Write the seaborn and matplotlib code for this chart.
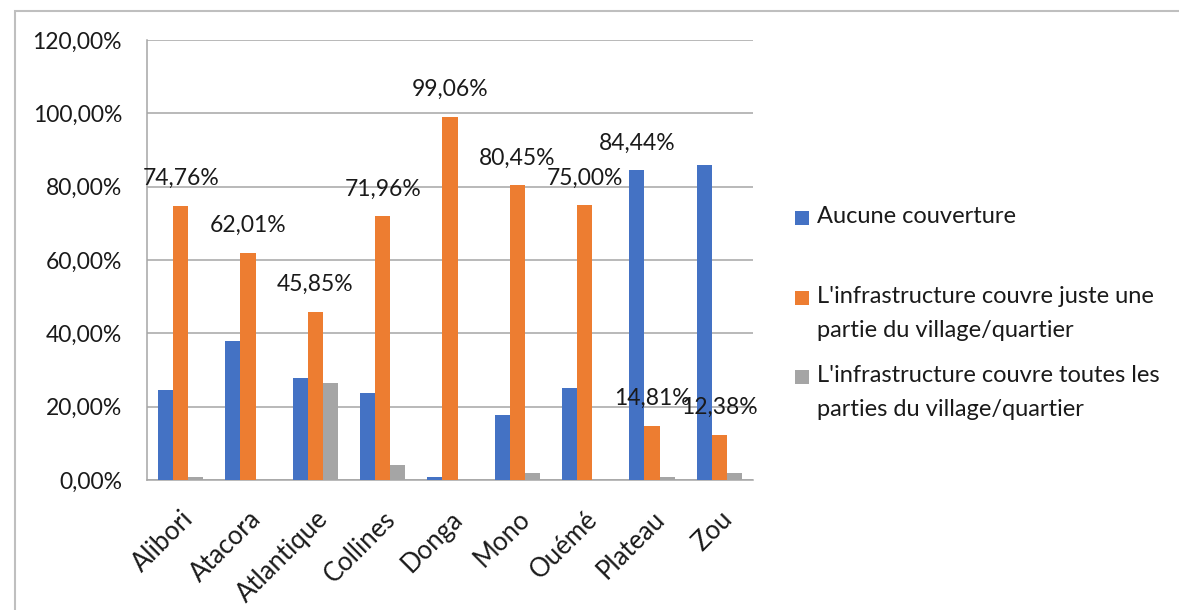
import matplotlib
matplotlib.use("Agg")
import matplotlib.pyplot as plt
import seaborn as sns
import pandas as pd
from matplotlib.patches import Rectangle
from matplotlib.ticker import FuncFormatter, FixedLocator

# Couverture des infrastructures par département (%)
departements = ["Alibori", "Atacora", "Atlantique", "Collines", "Donga",
                "Mono", "Ouémé", "Plateau", "Zou"]
series = ["Aucune couverture",
          "L'infrastructure couvre juste une partie du village/quartier",
          "L'infrastructure couvre toutes les parties du village/quartier"]
legend_labels = ["Aucune couverture",
                 "L'infrastructure couvre juste une\npartie du village/quartier",
                 "L'infrastructure couvre toutes les\nparties du village/quartier"]
aucune = [24.50, 37.99, 27.70, 23.83, 0.94, 17.70, 25.00, 84.44, 85.80]
partie = [74.76, 62.01, 45.85, 71.96, 99.06, 80.45, 75.00, 14.81, 12.38]
toutes = [0.74, 0.00, 26.45, 4.21, 0.00, 1.85, 0.00, 0.75, 1.82]
y_ticks = [0, 20, 40, 60, 80, 100, 120]

# Bars carrying a value label, per series
labelled = {
    series[0]: ["Plateau"],
    series[1]: departements,
    series[2]: [],
}

colors = ["#4472C4", "#ED7D31", "#A5A5A5"]
grid_grey = "#A6A6A6"
text_color = "#1a1a1a"

df = pd.DataFrame({
    "Département": departements * 3,
    "Série": [s for s in series for _ in departements],
    "Pourcentage": aucune + partie + toutes,
})

sns.set_style("white")
plt.rcParams["font.family"] = ["Lato", "DejaVu Sans"]
plt.rcParams["text.color"] = text_color

W, H = 1179, 610
fig = plt.figure(figsize=(W / 100, H / 100), dpi=100)
ax = fig.add_axes([147 / W, 1 - 480 / H, (753 - 147) / W, 440 / H])

sns.barplot(data=df, x="Département", y="Pourcentage", hue="Série",
            hue_order=series, order=departements, palette=colors,
            saturation=1, width=0.67, gap=0, legend=False, ax=ax,
            edgecolor="none", linewidth=0, zorder=3)

ax.set_ylim(0, 120)
ax.set_xlim(-0.5, len(departements) - 0.5)
ax.yaxis.set_major_locator(FixedLocator(y_ticks))
ax.yaxis.set_major_formatter(
    FuncFormatter(lambda v, _: f"{v:.2f}%".replace(".", ",")))
ax.grid(axis="y", color=grid_grey, lw=1.1, zorder=0)
ax.set_axisbelow(True)
ax.set_xlabel("")
ax.set_ylabel("")

for side in ["top", "right"]:
    ax.spines[side].set_visible(False)
for side in ["left", "bottom"]:
    ax.spines[side].set_color(grid_grey)
    ax.spines[side].set_linewidth(1.1)

ax.tick_params(axis="y", length=5, width=1.1, color=grid_grey, pad=13,
               labelsize=16.5, labelcolor=text_color)
ax.tick_params(axis="x", which="major", length=0, pad=19,
               labelsize=18.5, labelcolor=text_color)
ax.set_xticks([i - 0.5 for i in range(len(departements) + 1)], minor=True)
ax.tick_params(axis="x", which="minor", length=5, width=1.1, color=grid_grey)
for lab in ax.get_xticklabels():
    lab.set_rotation(45)
    lab.set_ha("right")
    lab.set_va("top")
    lab.set_rotation_mode("anchor")

# Value labels above selected bars
for serie, container in zip(series, ax.containers):
    for dep, bar in zip(departements, container):
        if dep in labelled[serie]:
            h = bar.get_height()
            ax.annotate(f"{h:.2f}%".replace(".", ","),
                        xy=(bar.get_x() + bar.get_width() / 2, h),
                        xytext=(0, 19.5), textcoords="offset points",
                        ha="center", va="center", fontsize=16.5,
                        color=text_color, zorder=5, annotation_clip=False)

# Legend on the right
legend_rows = [218, 298, 377]
for color, label, row in zip(colors, legend_labels, legend_rows):
    fig.add_artist(Rectangle((795 / W, 1 - (row + 7) / H), 14 / W, 14 / H,
                             transform=fig.transFigure, facecolor=color,
                             edgecolor="none"))
    fig.text(817 / W, 1 - (row - 12) / H, label, ha="left", va="top",
             fontsize=17, linespacing=1.78, color=text_color)

# Chart area border
fig.add_artist(Rectangle((15 / W, -0.05), 1.2, 1.05 - 11 / H,
                         transform=fig.transFigure, fill=False,
                         edgecolor="#BFBFBF", lw=1.5))

fig.savefig("out.png", dpi=100)
